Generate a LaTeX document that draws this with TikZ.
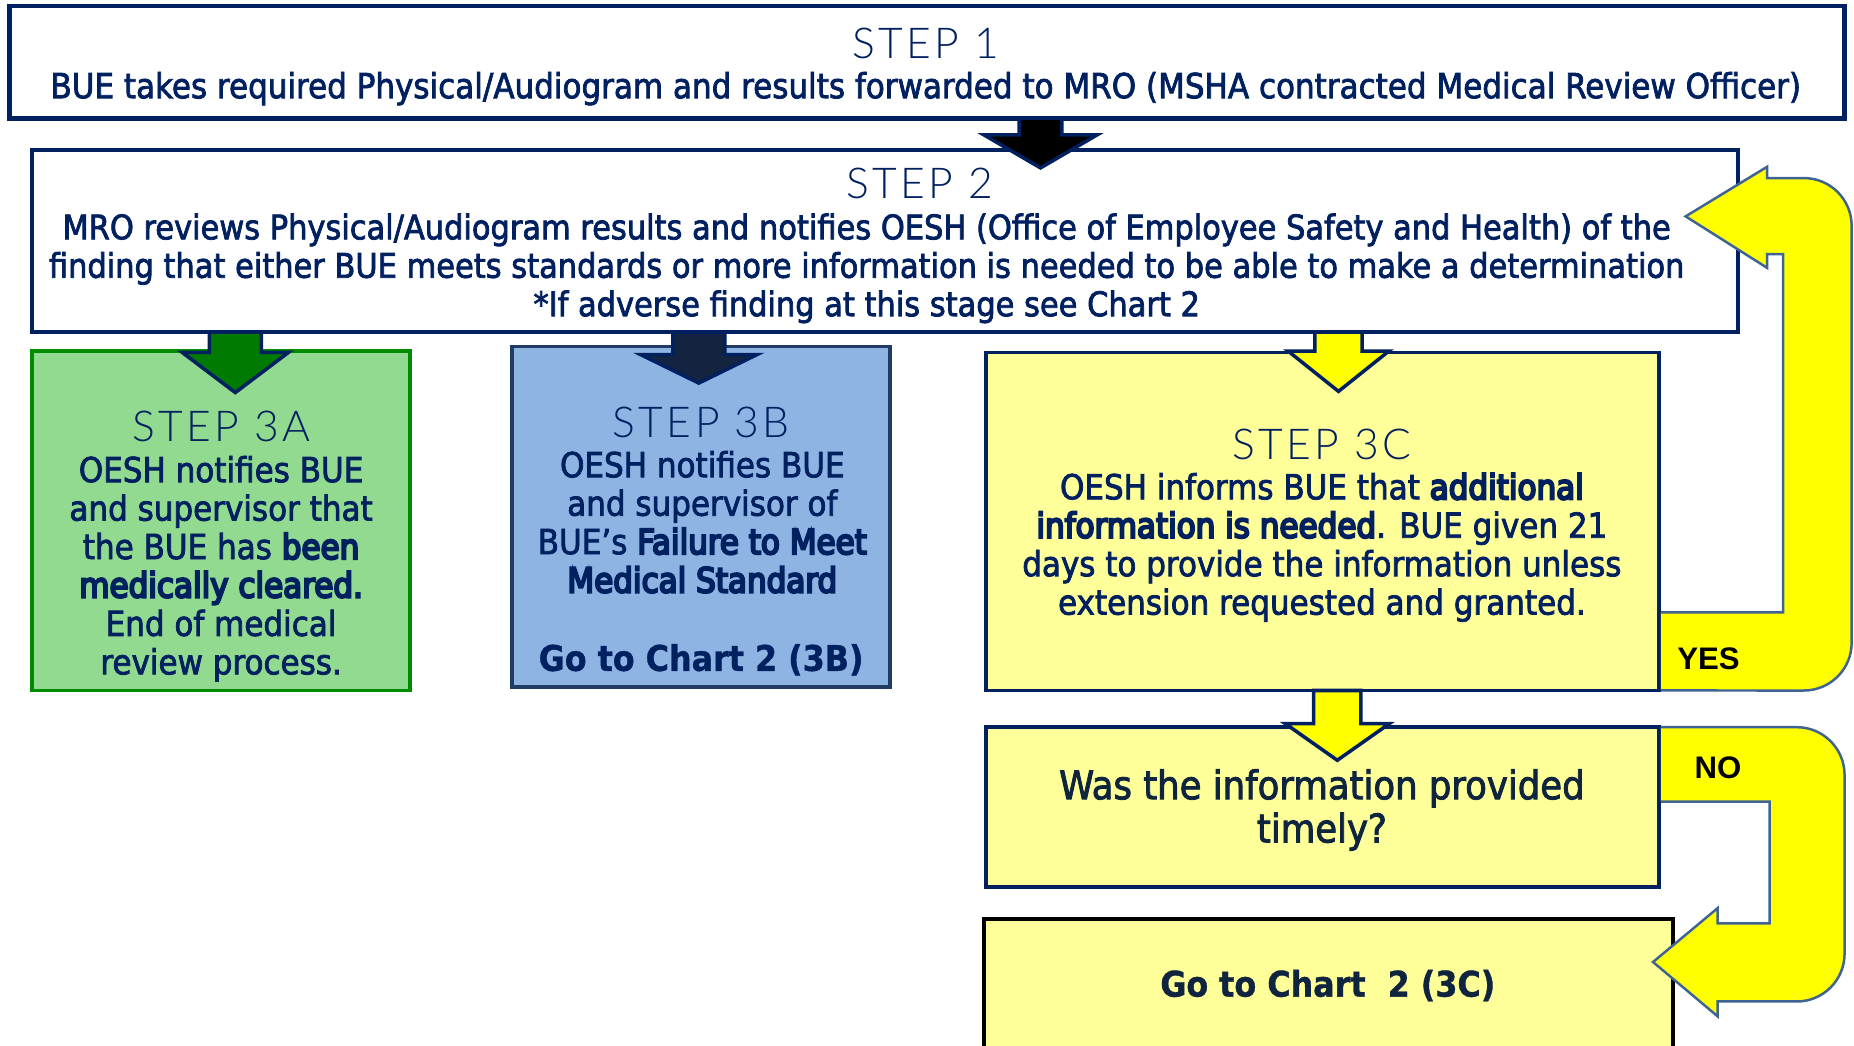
\documentclass[tikz,border=0pt]{standalone}
\usepackage{fontspec}
\usetikzlibrary{calc}

\IfFontExistsTF{DejaVu Sans Condensed}
  {\setmainfont{DejaVu Sans Condensed}[BoldFont={DejaVu Sans Condensed Bold},UprightFeatures={FakeBold=2.2},BoldFeatures={FakeBold=1}]
   \newfontfamily\heavyfont{DejaVu Sans Condensed}[FakeBold=6]}
  {\setmainfont{DejaVu Sans}[FakeStretch=0.9,UprightFeatures={FakeBold=2.2},BoldFeatures={FakeBold=1}]
   \newfontfamily\heavyfont{DejaVu Sans}[FakeStretch=0.9,FakeBold=6]}
\IfFontExistsTF{Lato Light}
  {\newfontfamily\stepfont{Lato Light}[LetterSpace=8]}
  {\newfontfamily\stepfont{Lato}[LetterSpace=8]}
\newfontfamily\labelfont{Liberation Sans}
\newcommand{\heavy}[1]{{\heavyfont #1}}

\definecolor{navy}{HTML}{002060}
\definecolor{deepnavy}{HTML}{0F243E}
\definecolor{loopline}{HTML}{3F6494}
\definecolor{greenfill}{HTML}{92DA8F}
\definecolor{greenline}{HTML}{008C00}
\definecolor{greenarrow}{HTML}{007A00}
\definecolor{bluefill}{HTML}{8EB4E3}
\definecolor{blueline}{HTML}{203C64}
\definecolor{bluearrow}{HTML}{14233F}
\definecolor{paleyellow}{HTML}{FFFF99}
\definecolor{brightyellow}{HTML}{FFFF00}

\tikzset{
  box/.style={rectangle, draw=navy, line width=1.8pt, outer sep=0pt, inner sep=0pt},
  title/.style={text=navy, font=\stepfont\fontsize{20.5}{22}\selectfont, inner sep=0pt},
  body/.style={text=navy, align=center, font=\fontsize{16.6}{18.5}\selectfont, inner sep=0pt},
  goto/.style={text=deepnavy, align=center, font=\bfseries\fontsize{17}{20.7}\selectfont, inner sep=0pt},
  answer/.style={font=\labelfont\bfseries\fontsize{15}{18}\selectfont, inner sep=0pt},
  looparrow/.style={fill=brightyellow, draw=loopline, line width=1.2pt, line join=miter},
  blockarrow/.style n args={3}{draw=navy, line width=1.7pt, line join=miter,
    to path={let \p1=(\tikztostart), \p2=(\tikztotarget), \p3=(#1,#3), \p4=(#2,0) in
      (\x1-\x3,\y1) -- (\x1+\x3,\y1) -- (\x1+\x3,\y2-\y3) -- (\x1+\x4,\y2-\y3)
      -- (\x2,\y2) -- (\x1-\x4,\y2-\y3) -- (\x1-\x3,\y2-\y3) -- cycle}},
}

\begin{document}
\begin{tikzpicture}[x=0.02cm, y=-0.02cm]
  \clip (0,0) rectangle (1568,884);

  % boxes
  \node[box, line width=2.2pt, minimum width=31.04cm, minimum height=1.9cm] (step1) at (784,52.5) {};
  \node[box, minimum width=28.86cm, minimum height=3.08cm, fill=white] (step2) at (748.5,204) {};
  \node[box, draw=greenline, fill=greenfill, minimum width=6.4cm, minimum height=5.74cm] (step3a) at (187,440.5) {};
  \node[box, draw=blueline, fill=bluefill, minimum width=6.4cm, minimum height=5.76cm] (step3b) at (593,437) {};
  \node[box, fill=paleyellow, minimum width=11.38cm, minimum height=5.72cm] (step3c) at (1118.5,441) {};
  \node[box, draw=black, fill=paleyellow, minimum width=11.66cm, minimum height=2.3cm] (chart3c) at (1123.5,834.5) {};
  \node[box, fill=paleyellow, minimum width=11.38cm, minimum height=2.7cm] (query) at (1118.5,682.5) {};

  % texts
  \node[title] (s1title) at (783,37) {STEP 1};
  \node[body] (s1text) at (783,75) {BUE takes required Physical/Audiogram and results forwarded to MRO (MSHA contracted Medical Review Officer)};
  \node[title] (s2title) at (778,155) {STEP 2};
  \node[body, font=\fontsize{16.3}{18.5}\selectfont] (s2text) at (733,227) {MRO reviews Physical/Audiogram results and notifies OESH (Office of Employee Safety and Health) of the\\
    finding that either BUE meets standards or more information is needed to be able to make a determination\\
    *If adverse finding at this stage see Chart 2};
  \node[title] (s3atitle) at (187,361) {STEP 3A};
  \node[body] (s3atext) at (187,481) {OESH notifies BUE\\and supervisor that\\the BUE has \heavy{been}\\\heavy{medically cleared.}\\End of medical\\review process.};
  \node[title] (s3btitle) at (593,357) {STEP 3B};
  \node[body] (s3btext) at (594,441.5) {OESH notifies BUE\\and supervisor of\\BUE’s \heavy{Failure to Meet}\\\heavy{Medical Standard}};
  \node[goto, text=navy] (s3bgo) at (593,558) {Go to Chart 2 (3B)};
  \node[title] (s3ctitle) at (1118,376) {STEP 3C};
  \node[body] (s3ctext) at (1118,463) {OESH informs BUE that \heavy{additional}\\\heavy{information is needed}. BUE given 21\\days to provide the information unless\\extension requested and granted.};
  \node[body, text=deepnavy, font=\fontsize{19}{20.8}\selectfont] (querytext) at (1118,685) {Was the information provided\\timely?};
  \node[goto] (chart3ctext) at (1123,833.5) {Go to Chart~~2 (3C)};

  % block arrows between the boxes
  \coordinate (tip12) at (880,142);
  \coordinate (tip2a) at (199,332);
  \coordinate (tip2b) at (591,324);
  \coordinate (tip2c) at (1132,331);
  \coordinate (tip3q) at (1131,643);
  \draw[blockarrow={18}{48}{28}, fill=black] (step1.south -| tip12) to (tip12);
  \draw[blockarrow={22}{45}{34}, fill=greenarrow] (step2.south -| tip2a) to (tip2a);
  \draw[blockarrow={22}{49}{24}, fill=bluearrow] (step2.south -| tip2b) to (tip2b);
  \draw[blockarrow={20}{42.5}{34}, fill=brightyellow] (step2.south -| tip2c) to (tip2c);
  \draw[blockarrow={20}{44}{31}, fill=brightyellow] (step3c.south -| tip3q) to (tip3q);

  % YES loop back to step 2
  \coordinate (yestip) at (1425.6,183);
  \coordinate (yescorner) at (1508,518);
  \draw[looparrow] ($(step3c.south east)+(1pt,0)$) [rounded corners=23pt] -- (1566,584) -- (1566,150.6)
    [sharp corners] -- (1494.6,150.6) -- (1494.6,141) -- (yestip) -- (1494.6,226.6) -- (1494.6,215) -- (1508,215) -- (yescorner)
    -- ($(step3c.east |- yescorner)+(1pt,0)$);

  % NO loop down to chart 2
  \coordinate (notip) at (1398,813.6);
  \coordinate (nocorner) at (1496.7,678);
  \draw[looparrow] ($(query.north east)+(1pt,0)$) [rounded corners=23pt] -- (1560,615) -- (1560,847)
    [sharp corners] -- (1452.7,847) -- (1452.7,859.6) -- (notip) -- (1452.7,768) -- (1452.7,781) -- (1496.7,781) -- (nocorner)
    -- ($(query.east |- nocorner)+(1pt,0)$);

  \node[answer] (yes) at (1445,557) {YES};
  \node[answer] (no) at (1453,649) {NO};
\end{tikzpicture}
\end{document}
